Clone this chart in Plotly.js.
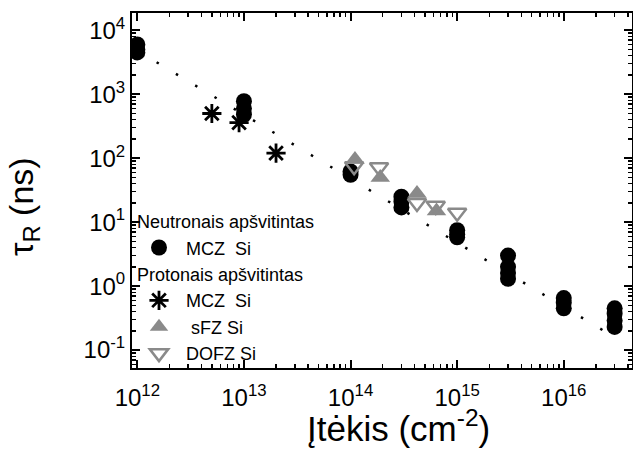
<!DOCTYPE html>
<html>
<head>
<meta charset="utf-8">
<script src="https://cdn.plot.ly/plotly-3.0.1.min.js"></script>
<style>html,body{margin:0;padding:0;background:#fff;}#chart{width:633px;height:452px;}</style>
</head>
<body>
<div id="chart"></div>
<script>
// Neutron-irradiated MCZ Si (black circles)
const neutronMczX = [1e12, 1e12, 1e12, 1e13, 1e13, 1e13, 1e14, 1e14, 3e14, 3e14, 3e14,
                     1e15, 1e15, 1e15, 3e15, 3e15, 3e15, 3e15, 1e16, 1e16, 1e16, 3e16, 3e16, 3e16, 3e16];
const neutronMczY = [6000, 5000, 4500, 780, 600, 480, 62, 55, 25, 21, 17,
                     7.5, 6.5, 5.8, 3.0, 2.0, 1.6, 1.3, 0.65, 0.55, 0.45, 0.45, 0.37, 0.29, 0.23];
// Proton-irradiated MCZ Si (asterisks)
const protonMczX = [5e12, 9e12, 2e13];
const protonMczY = [500, 360, 120];
// Proton-irradiated sFZ Si (grey filled triangles)
const sfzX = [1.1e14, 1.9e14, 4.2e14, 6.4e14];
const sfzY = [95, 50, 28, 15];
// Proton-irradiated DOFZ Si (grey open down triangles)
const dofzX = [1.08e14, 1.85e14, 4.2e14, 6.3e14, 1e15];
const dofzY = [75, 72, 20, 18, 14];
// Dotted guide line (end points)
const fitX = [1e12, 2.5e16];
const fitY = [4800, 0.19];

const xTickVals = [1e12, 1e13, 1e14, 1e15, 1e16];
const xTickText = ['10<sup>12</sup>', '10<sup>13</sup>', '10<sup>14</sup>', '10<sup>15</sup>', '10<sup>16</sup>'];
const yTickVals = [0.1, 1, 10, 100, 1000, 10000];
const yTickText = ['10<sup>-1</sup>', '10<sup>0</sup>', '10<sup>1</sup>', '10<sup>2</sup>', '10<sup>3</sup>', '10<sup>4</sup>'];

const xTitle = 'Įtėkis (cm<sup>-2</sup>)';
const yTitle = 'τ<sub>R</sub> (ns)';
const groupNeutron = 'Neutronais apšvitintas';
const groupProton = 'Protonais apšvitintas';
const nameMcz = 'MCZ\u00a0 Si';
const nameSfz = '\u00a0sFZ Si';
const nameDofz = 'DOFZ Si';

function minorVals(lo, hi) {
  const v = [];
  for (let d = lo; d <= hi; d++) for (let k = 2; k <= 9; k++) v.push(k * Math.pow(10, d));
  return v;
}

const grey = '#8a8a8a';
const traces = [
  {x: fitX, y: fitY, mode: 'lines', showlegend: false, hoverinfo: 'skip',
   line: {color: '#000', width: 2.5, dash: '2.5px,20px'}},
  {x: neutronMczX, y: neutronMczY, mode: 'markers', name: nameMcz,
   legendgroup: 'n', legendgrouptitle: {text: groupNeutron},
   marker: {symbol: 'circle', size: 16, color: '#000'}},
  {x: protonMczX, y: protonMczY, mode: 'markers', name: nameMcz,
   legendgroup: 'p', legendgrouptitle: {text: groupProton},
   marker: {symbol: 'asterisk-open', size: 16, color: '#000', line: {color: '#000', width: 2.8}}},
  {x: sfzX, y: sfzY, mode: 'markers', name: nameSfz, legendgroup: 'p',
   marker: {symbol: 'triangle-up', size: 17, color: grey}},
  {x: dofzX, y: dofzY, mode: 'markers', name: nameDofz, legendgroup: 'p',
   marker: {symbol: 'triangle-down-open', size: 16, color: grey, line: {color: grey, width: 2.5}}}
];

const axisCommon = {
  type: 'log', showgrid: false, zeroline: false, showline: true, linewidth: 2, linecolor: '#000',
  mirror: 'ticks', ticks: 'inside', ticklen: 8, tickwidth: 2, tickcolor: '#000',
  tickfont: {family: 'Liberation Sans, Arial, sans-serif', size: 24, color: '#000'},
  tickmode: 'array'
};

const layout = {
  width: 633, height: 452,
  margin: {l: 132, r: 1, t: 13, b: 84, pad: 0},
  paper_bgcolor: '#fff', plot_bgcolor: '#fff',
  font: {family: 'Liberation Sans, Arial, sans-serif', color: '#000'},
  xaxis: Object.assign({}, axisCommon, {
    range: [11.95, 16.64], tickvals: xTickVals, ticktext: xTickText, ticklabelstandoff: 7,
    minor: {tickmode: 'array', tickvals: minorVals(11, 16), ticks: 'inside', ticklen: 4, tickwidth: 1.5, tickcolor: '#000'}
  }),
  yaxis: Object.assign({}, axisCommon, {
    range: [-1.28, 4.27], tickvals: yTickVals, ticktext: yTickText,
    minor: {tickmode: 'array', tickvals: minorVals(-2, 4), ticks: 'inside', ticklen: 4, tickwidth: 1.5, tickcolor: '#000'}
  }),
  annotations: [
    {text: xTitle, xref: 'paper', yref: 'paper', x: 0.532, y: -0.097, xanchor: 'center', yanchor: 'top',
     showarrow: false, font: {size: 35, color: '#000'}},
    {text: yTitle, xref: 'paper', yref: 'paper', x: -0.264, y: 0.455, xanchor: 'left', yanchor: 'middle',
     textangle: -90, showarrow: false, font: {size: 34, color: '#000'}}
  ],
  legend: {
    x: 0.0, y: 0.465, xanchor: 'left', yanchor: 'top', itemwidth: 44,
    bgcolor: 'rgba(0,0,0,0)', borderwidth: 0,
    font: {size: 18, color: '#000'}, tracegroupgap: 0, traceorder: 'grouped',
    grouptitlefont: {size: 18, color: '#000'}
  },
  showlegend: true
};

Plotly.newPlot('chart', traces, layout, {displayModeBar: false, staticPlot: true});
</script>
</body>
</html>
